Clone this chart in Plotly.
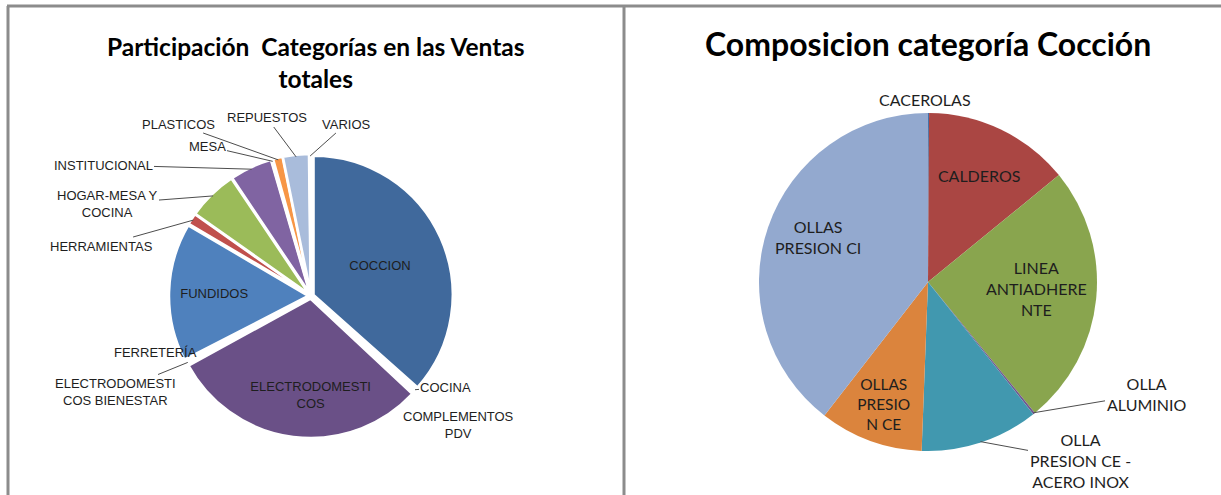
import math
import plotly.graph_objects as go

W, H = 1221, 495

# ---- Left chart data: share of total sales by category (%)
left_labels = ["COCCION", "COCINA", "COMPLEMENTOS PDV", "ELECTRODOMESTICOS",
               "ELECTRODOMESTICOS BIENESTAR", "FERRETERÍA", "FUNDIDOS", "HERRAMIENTAS",
               "HOGAR-MESA Y COCINA", "INSTITUCIONAL", "MESA", "PLASTICOS", "REPUESTOS", "VARIOS"]
left_text = ["COCCION", "COCINA", "COMPLEMENTOS<br>PDV", "ELECTRODOMESTI<br>COS",
             "ELECTRODOMESTI<br>COS BIENESTAR", "FERRETERÍA", "FUNDIDOS", "HERRAMIENTAS",
             "HOGAR-MESA Y<br>COCINA", "INSTITUCIONAL", "MESA", "PLASTICOS", "REPUESTOS", "VARIOS"]
left_values = [36.5, 0.2, 0.2, 30.0, 0.2, 0.2, 16.0, 1.3, 5.8, 4.9, 0.2, 1.1, 3.0, 0.2]
left_colors = ["#40699C", "#9B3D3A", "#7E9A48", "#6A5087", "#3B8BA0", "#C8742F",
               "#4F81BD", "#C0504D", "#9BBB59", "#8064A2", "#4BACC6", "#F79646",
               "#A9BCDB", "#DBA9A8"]

# ---- Right chart data: composition of category Cocción (%)
right_labels = ["CACEROLAS", "CALDEROS", "LINEA ANTIADHERENTE", "OLLA ALUMINIO",
                "OLLA PRESION CE - ACERO INOX", "OLLAS PRESION CE", "OLLAS PRESION CI"]
right_text = ["CACEROLAS", "CALDEROS", "LINEA<br>ANTIADHERE<br>NTE", "OLLA<br>ALUMINIO",
              "OLLA<br>PRESION CE -<br>ACERO INOX", "OLLAS<br>PRESIO<br>N CE", "OLLAS<br>PRESION CI"]
right_values = [0.1, 14.0, 25.0, 0.2, 11.3, 9.9, 39.5]
right_colors = ["#4572A7", "#AA4643", "#89A54E", "#71588F", "#4198AF", "#DB843D", "#93A9CF"]

# ---- layout settings (pixels from the top-left corner of the page)
FONT_L = "Liberation Sans Narrow, Arial Narrow, sans-serif"
FONT_R = "Lato, Open Sans, sans-serif"
L_CX, L_CY, L_HALF, L_PULL = 311, 296, 142, 0.02
R_CX, R_CY, R_HALF = 928, 282, 169
INSIDE_L = {"COCCION", "ELECTRODOMESTICOS", "FUNDIDOS"}
INSIDE_R = {"CALDEROS", "OLLAS PRESION CE"}
# label centre, draw leader line?
LEFT_LABEL_POS = {
    "VARIOS": (346, 124, True), "REPUESTOS": (267, 118, True), "PLASTICOS": (178, 124, True),
    "MESA": (207, 146, True), "INSTITUCIONAL": (103, 165, True),
    "HOGAR-MESA Y COCINA": (107, 204, True), "HERRAMIENTAS": (101, 246, True),
    "FERRETERÍA": (155, 352, False), "ELECTRODOMESTICOS BIENESTAR": (115, 392, True),
    "COCINA": (446, 387, True), "COMPLEMENTOS PDV": (458, 425, False),
}
RIGHT_LABEL_POS = {
    "CACEROLAS": (925, 100, False), "OLLA ALUMINIO": (1146, 394, True),
    "OLLA PRESION CE - ACERO INOX": (1080, 460, True),
    "LINEA ANTIADHERENTE": (1036, 288, False), "OLLAS PRESION CI": (818, 237, False),
}


def dom(cx, cy, half):
    return dict(x=[(cx - half) / W, (cx + half) / W],
                y=[1 - (cy + half) / H, 1 - (cy - half) / H])


def mid_point(values, i, cx, cy, rad):
    total = sum(values)
    frac = (sum(values[:i]) + values[i] / 2) / total
    ang = 2 * math.pi * frac  # clockwise from 12 o'clock
    return cx + rad * math.sin(ang), cy - rad * math.cos(ang)


fig = go.Figure()

fig.add_trace(go.Pie(
    labels=left_labels, values=left_values, text=left_text,
    textinfo="text", textposition=["inside" if l in INSIDE_L else "none" for l in left_labels],
    sort=False, direction="clockwise", rotation=0, pull=L_PULL,
    marker=dict(colors=left_colors, line=dict(color="white", width=2.5)),
    textfont=dict(family=FONT_L, size=13, color="#1E1E1E"),
    insidetextorientation="horizontal", showlegend=False,
    domain=dom(L_CX, L_CY, L_HALF), hoverinfo="label+percent",
))

fig.add_trace(go.Pie(
    labels=right_labels, values=right_values, text=right_text,
    textinfo="text", textposition=["inside" if l in INSIDE_R else "none" for l in right_labels],
    sort=False, direction="clockwise", rotation=0,
    marker=dict(colors=right_colors, line=dict(color="rgba(0,0,0,0)", width=0)),
    textfont=dict(family=FONT_R, size=16, color="#1E1E1E"),
    insidetextorientation="horizontal", showlegend=False,
    domain=dom(R_CX, R_CY, R_HALF), hoverinfo="label+percent",
))


def add_labels(labels, texts, values, pos, cx, cy, rad, font):
    for i, lab in enumerate(labels):
        if lab not in pos:
            continue
        tx, ty, leader = pos[lab]
        if leader:
            hx, hy = mid_point(values, i, cx, cy, rad)
            fig.add_annotation(text=texts[i], xref="paper", yref="paper",
                               x=hx / W, y=1 - hy / H, ax=tx - hx, ay=ty - hy,
                               showarrow=True, arrowhead=0, arrowwidth=1,
                               arrowcolor="#4D4D4D", standoff=0, font=font, align="center")
        else:
            fig.add_annotation(text=texts[i], xref="paper", yref="paper",
                               x=tx / W, y=1 - ty / H, showarrow=False, font=font,
                               align="center", xanchor="center", yanchor="middle")


add_labels(left_labels, left_text, left_values, LEFT_LABEL_POS, L_CX, L_CY, L_HALF - 2,
           dict(family=FONT_L, size=13, color="#1E1E1E"))
add_labels(right_labels, right_text, right_values, RIGHT_LABEL_POS, R_CX, R_CY, R_HALF - 1,
           dict(family=FONT_R, size=16, color="#1E1E1E"))

# frame lines of the two chart panels
line_style = dict(color="#8C8C8C", width=3)
fig.add_shape(type="line", xref="paper", yref="paper", x0=7 / W, x1=1, y0=1 - 6 / H, y1=1 - 6 / H, line=line_style)
fig.add_shape(type="line", xref="paper", yref="paper", x0=8 / W, x1=8 / W, y0=0, y1=1 - 6 / H, line=line_style)
fig.add_shape(type="line", xref="paper", yref="paper", x0=624 / W, x1=624 / W, y0=0, y1=1 - 6 / H, line=line_style)

fig.add_annotation(text="<b>Participación  Categorías en las Ventas<br>totales</b>",
                   xref="paper", yref="paper", x=316 / W, y=1 - 62 / H, showarrow=False,
                   font=dict(family="Lato, sans-serif", size=24.5, color="black"),
                   xanchor="center", yanchor="middle", align="center")
fig.add_annotation(text="<b>Composicion categoría Cocción</b>",
                   xref="paper", yref="paper", x=928 / W, y=1 - 43 / H, showarrow=False,
                   font=dict(family="Lato, sans-serif", size=32, color="black"),
                   xanchor="center", yanchor="middle")

fig.update_layout(width=W, height=H, margin=dict(l=0, r=0, t=0, b=0),
                  paper_bgcolor="white", plot_bgcolor="white")

fig.write_html("out.html", config={"displayModeBar": False},
               post_script="document.body.style.margin='0px';")
